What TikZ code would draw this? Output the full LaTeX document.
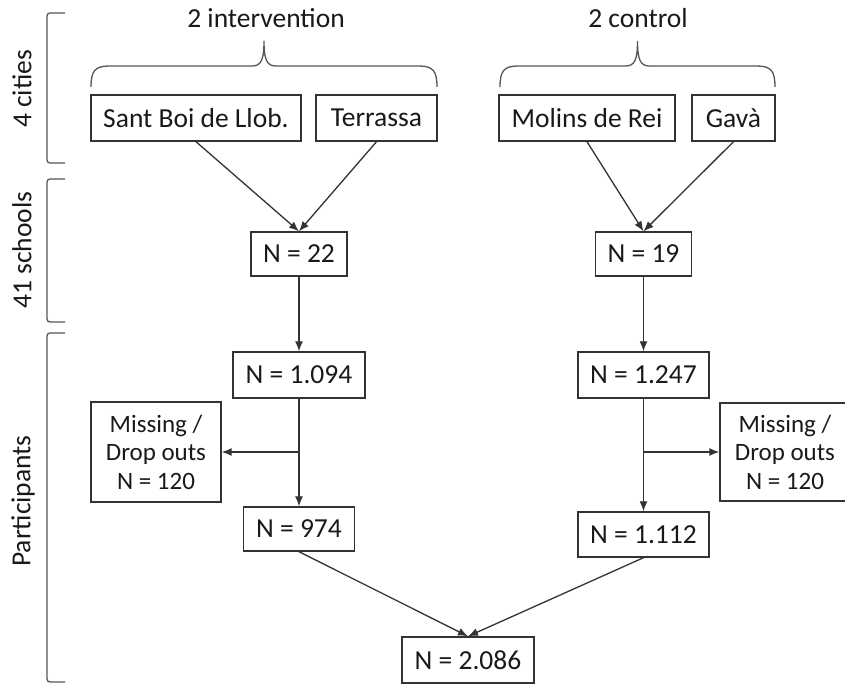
\documentclass[tikz,border=0pt]{standalone}
\usepackage{fontspec}
\setmainfont{Carlito}
\usepackage{xcolor}
\usetikzlibrary{arrows.meta}
\definecolor{linegray}{HTML}{333333}
\definecolor{bracegray}{HTML}{555555}

\begin{document}
\begin{tikzpicture}[
  x=1pt, y=-1pt,
  font=\fontsize{27.5}{30}\selectfont,
  box/.style={draw=linegray, line width=1.4pt, minimum height=46pt, inner sep=0pt, text=black!90, align=center},
  missbox/.style={box, font=\fontsize{25}{28.5}\selectfont, minimum width=130pt},
  edge/.style={-{Latex[length=10pt, width=8pt]}, line width=1.3pt, linegray},
  bracket/.style={line width=1.3pt, bracegray, rounded corners=3pt},
  sidelabel/.style={rotate=90, text=black!90}
]
\useasboundingbox (0,0) rectangle (845,685);
\clip (0,0) rectangle (845,685);

% side brackets
\draw[bracket] (65,13) -- (47,13) -- (47,163) -- (65,163);
\draw[bracket] (65,179) -- (47,179) -- (47,322) -- (65,322);
\draw[bracket] (65,333) -- (47,333) -- (47,682) -- (65,682);
\node[sidelabel] (lblcities) at (22,89) {4 cities};
\node[sidelabel] (lblschools) at (22,250) {41 schools};
\node[sidelabel] (lblpart) at (23,501) {Participants};

% group braces
\draw[line width=1.3pt, bracegray] (91,87) .. controls (91,71) and (95,66) .. (109,66) -- (252,66)
  .. controls (261,66) and (264,60) .. (264,41) .. controls (264,60) and (267,66) .. (276,66)
  -- (419,66) .. controls (433,66) and (437,71) .. (437,87);
\draw[line width=1.3pt, bracegray] (500,87) .. controls (500,71) and (504,66) .. (518,66) -- (625.5,66)
  .. controls (634.5,66) and (637.5,60) .. (637.5,41) .. controls (637.5,60) and (640.5,66) .. (649.5,66)
  -- (757,66) .. controls (771,66) and (775,71) .. (775,87);
\node[text=black!90] (lblint) at (266,18) {2 intervention};
\node[text=black!90] (lblctl) at (638,18) {2 control};

% cities
\node[box, minimum width=210pt] (santboi) at (196,118) {Sant Boi de Llob.};
\node[box, minimum width=121pt] (terrassa) at (376.5,118) {Terrassa};
\node[box, minimum width=176pt] (molins) at (587,118) {Molins de Rei};
\node[box, minimum width=83pt] (gava) at (733.5,118) {Gavà};

% schools
\node[box, minimum width=96pt, minimum height=44pt] (nint) at (299,254) {N = 22};
\node[box, minimum width=96pt, minimum height=44pt] (nctl) at (643.5,254) {N = 19};

% participants
\node[box, minimum width=132pt] (intall) at (299,375) {N = 1.094};
\node[box, minimum width=131pt] (ctlall) at (643.5,375) {N = 1.247};
\node[missbox, minimum height=100pt] (intmiss) at (156,452) {Missing /\\Drop outs\\N = 120};
\node[missbox, minimum height=98pt] (ctlmiss) at (785,452) {Missing /\\Drop outs\\N = 120};
\node[box, minimum width=111pt, minimum height=44pt] (intfinal) at (299,529) {N = 974};
\node[box, minimum width=131pt, minimum height=45pt] (ctlfinal) at (643.5,534.5) {N = 1.112};
\node[box, minimum width=132pt] (total) at (468,660) {N = 2.086};

\coordinate (intsplit) at (intall.south |- intmiss.east);
\coordinate (ctlsplit) at (ctlall.south |- ctlmiss.west);

% arrows
\draw[edge] (santboi.south) -- (nint.north);
\draw[edge] (terrassa.south) -- (nint.north);
\draw[edge] (molins.south) -- (nctl.north);
\draw[edge] (gava.south) -- (nctl.north);
\draw[edge] (nint) -- (intall);
\draw[edge] (nctl) -- (ctlall);
\draw[edge] (intall) -- (intfinal);
\draw[edge] (ctlall) -- (ctlfinal);
\draw[edge] (intsplit) -- (intmiss.east);
\draw[edge] (ctlsplit) -- (ctlmiss.west);
\draw[edge] (intfinal.south) -- (total.north);
\draw[edge] (ctlfinal.south) -- (total.north);
\end{tikzpicture}
\end{document}
